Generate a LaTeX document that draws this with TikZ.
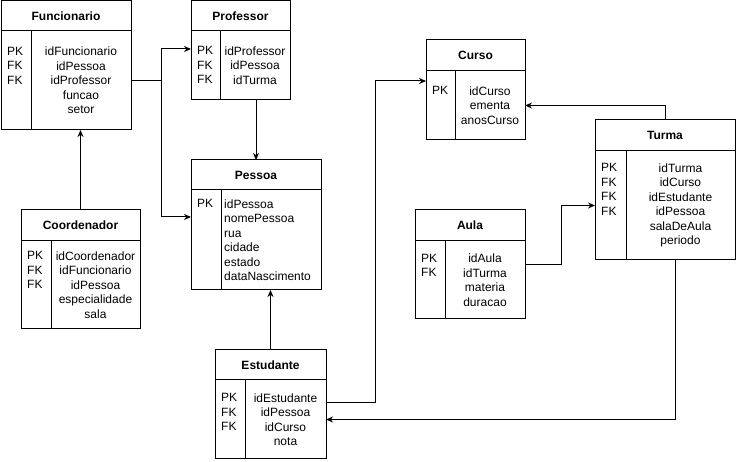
\documentclass[tikz,border=0pt]{standalone}
\usepackage{fontspec}
\setmainfont{Liberation Sans}
\usetikzlibrary{positioning, arrows.meta}

\tikzset{
  tab/.style={draw, line width=1pt, outer sep=0pt, inner sep=0pt, anchor=north west},
  titulo/.style={tab, minimum height=30pt, font=\fontsize{12}{14.5}\selectfont\bfseries},
  corpo/.style={tab, anchor=north},
  campos/.style={inner sep=0pt, align=center, font=\fontsize{12}{14.5}\selectfont},
  chaves/.style={inner xsep=6pt, inner ysep=0pt, anchor=north west, align=left, font=\fontsize{12}{14.5}\selectfont},
  seta/.style={line width=1pt, -{Stealth[length=7pt, width=6pt]}}
}

\begin{document}
\begin{tikzpicture}[x=1pt, y=-1pt]
\useasboundingbox (0,0) rectangle (737,462);

\node[titulo, minimum width=130pt] (funcH) at (1,1) {Funcionario};
\node[corpo, minimum width=130pt, minimum height=99pt, below=0pt of funcH] (func) {};
\draw[line width=1pt] ([xshift=30pt]func.north west) -- ([xshift=30pt]func.south west);
\node[campos] (funcC) at ([xshift=80pt]func.west) {idFuncionario\\idPessoa\\idProfessor\\funcao\\setor};
\node[chaves] (funcK) at (funcC.north -| func.west) {PK\\FK\\FK};

\node[titulo, minimum width=99pt] (profH) at (191,1) {Professor};
\node[corpo, minimum width=99pt, minimum height=69pt, below=0pt of profH] (prof) {};
\draw[line width=1pt] ([xshift=29pt]prof.north west) -- ([xshift=29pt]prof.south west);
\node[campos] (profC) at ([xshift=64pt]prof.west) {idProfessor\\idPessoa\\idTurma};
\node[chaves] (profK) at (profC.north -| prof.west) {PK\\FK\\FK};

\node[titulo, minimum width=130pt] (pesH) at (191,160) {Pessoa};
\node[corpo, minimum width=130pt, minimum height=100pt, below=0pt of pesH] (pes) {};
\draw[line width=1pt] ([xshift=30pt]pes.north west) -- ([xshift=30pt]pes.south west);
\node[campos, align=left, anchor=west] (pesC) at ([xshift=33pt]pes.west) {idPessoa\\nomePessoa\\rua\\cidade\\estado\\dataNascimento};
\node[chaves] (pesK) at (pesC.north -| pes.west) {PK};

\node[titulo, minimum width=119pt, minimum height=31pt] (coordH) at (21,210) {Coordenador};
\node[corpo, minimum width=119pt, minimum height=88pt, below=0pt of coordH] (coord) {};
\draw[line width=1pt] ([xshift=30pt]coord.north west) -- ([xshift=30pt]coord.south west);
\node[campos] (coordC) at ([xshift=74.5pt]coord.west) {idCoordenador\\idFuncionario\\idPessoa\\especialidade\\sala};
\node[chaves] (coordK) at (coordC.north -| coord.west) {PK\\FK\\FK};

\node[titulo, minimum width=99pt, minimum height=31pt] (cursoH) at (426,40) {Curso};
\node[corpo, minimum width=99pt, minimum height=69pt, below=0pt of cursoH] (curso) {};
\draw[line width=1pt] ([xshift=29pt]curso.north west) -- ([xshift=29pt]curso.south west);
\node[campos] (cursoC) at ([xshift=64pt]curso.west) {idCurso\\ementa\\anosCurso};
\node[chaves] (cursoK) at (cursoC.north -| curso.west) {PK};

\node[titulo, minimum width=140pt, minimum height=31pt] (turmaH) at (595,120) {Turma};
\node[corpo, minimum width=140pt, minimum height=109pt, below=0pt of turmaH] (turma) {};
\draw[line width=1pt] ([xshift=31pt]turma.north west) -- ([xshift=31pt]turma.south west);
\node[campos] (turmaC) at ([xshift=85.5pt]turma.west) {idTurma\\idCurso\\idEstudante\\idPessoa\\salaDeAula\\periodo};
\node[chaves] (turmaK) at (turmaC.north -| turma.west) {PK\\FK\\FK\\FK};

\node[titulo, minimum width=110pt, minimum height=31pt] (aulaH) at (415,210) {Aula};
\node[corpo, minimum width=110pt, minimum height=78pt, below=0pt of aulaH] (aula) {};
\draw[line width=1pt] ([xshift=30pt]aula.north west) -- ([xshift=30pt]aula.south west);
\node[campos] (aulaC) at ([xshift=70pt]aula.west) {idAula\\idTurma\\materia\\duracao};
\node[chaves] (aulaK) at (aulaC.north -| aula.west) {PK\\FK};

\node[titulo, minimum width=111pt] (estH) at (215,350) {Estudante};
\node[corpo, minimum width=111pt, minimum height=79pt, below=0pt of estH] (est) {};
\draw[line width=1pt] ([xshift=30pt]est.north west) -- ([xshift=30pt]est.south west);
\node[campos] (estC) at ([xshift=70.5pt]est.west) {idEstudante\\idPessoa\\idCurso\\nota};
\node[chaves] (estK) at (estC.north -| est.west) {PK\\FK\\FK};

\draw[seta] (func.east) -- ++(30,0) |- ([yshift=16.5pt]prof.west);
\draw[seta] (func.east) -- ++(30,0) |- ([yshift=23pt]pes.west);
\draw[seta] (prof.south -| pesH.north) -- (pesH.north);
\draw[seta] (coordH.north) -- (coordH.north |- func.south);
\draw[seta] (estH.north) -- (estH.north |- pes.south);
\draw[seta] ([yshift=16.5pt]est.east) -- ++(49,0) |- ([yshift=24.5pt]curso.west);
\draw[seta] ([xshift=10pt]turma.south) |- (est.east);
\draw[seta] (turmaH.north) |- (curso.east);
\draw[seta] ([yshift=15pt]aula.east) -- ++(36,0) |- (turma.west);
\end{tikzpicture}
\end{document}
